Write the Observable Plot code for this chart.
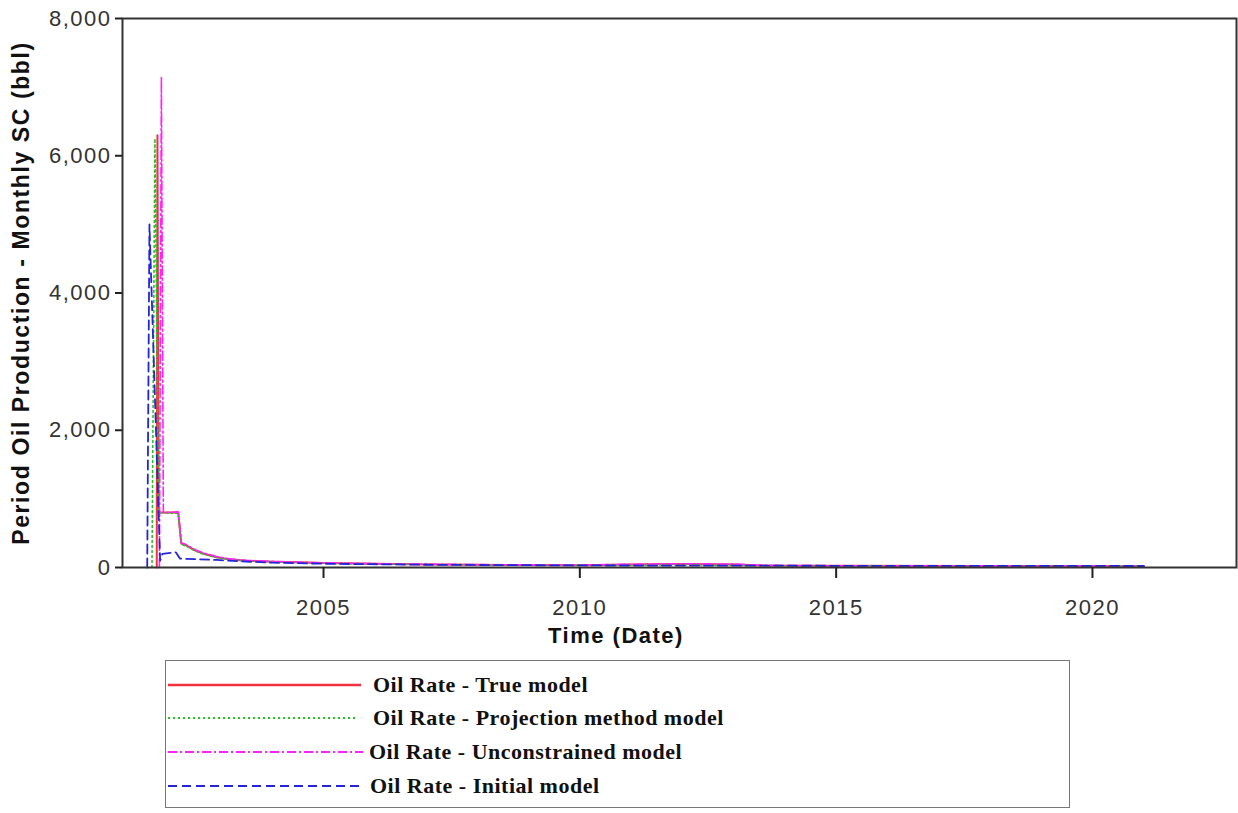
<!DOCTYPE html>
<html>
<head>
<meta charset="utf-8">
<script src="https://cdn.jsdelivr.net/npm/d3@7"></script>
<script src="https://cdn.jsdelivr.net/npm/@observablehq/plot@0.6"></script>
<style>
  body { margin: 0; background: #fff; }
  #wrap { position: relative; width: 1238px; height: 813px; font-family: "Liberation Sans", Arial, sans-serif; }
  #chart { position: absolute; left: 0; top: 0; }
  #chart svg g[aria-label="y-axis label"] text { font-weight: bold; font-size: 23px; letter-spacing: 1.6px; fill: #111; }
  #chart svg g[aria-label="y-axis tick label"] text,
  #chart svg g[aria-label="x-axis tick label"] text { letter-spacing: 1.5px; fill: #333; }
  #xlabel { position: absolute; left: 548px; top: 623px; font-weight: bold; font-size: 22px; letter-spacing: 1.5px; color: #111; white-space: nowrap; }
  #legend { position: absolute; left: 165px; top: 660px; width: 905px; height: 148px; border: 1.5px solid #777; box-sizing: border-box; }
  .lrow { position: absolute; left: 0; height: 30px; width: 900px; }
  .lrow svg { position: absolute; left: 0; top: 0; }
  .lrow span { position: absolute; top: 2px; font-family: "Liberation Serif", "Times New Roman", serif; font-weight: bold; font-size: 22px; letter-spacing: 0.5px; color: #111; white-space: nowrap; }
</style>
</head>
<body>
<div id="wrap">
  <div id="chart"></div>
  <div id="xlabel">Time (Date)</div>
  <div id="legend"></div>
</div>
<script>
// ---- data ----
const seriesNames = ["Oil Rate - True model", "Oil Rate - Projection method model", "Oil Rate - Unconstrained model", "Oil Rate - Initial model"];
const seriesColors = ["#f2303e", "#22c422", "#ff22ff", "#2424d8"];
const seriesDash = [null, "2,3", "9,3,2,3", "9,5"];
const seriesWidth = [2, 1.6, 1.6, 1.8];

const yTicks = [0, 2000, 4000, 6000, 8000];
const xTickYears = [2005, 2010, 2015, 2020];

const trueModel = [
  ["2001-10-01", 0], ["2001-10-06", 6300], ["2001-10-14", 800], ["2002-03-03", 800],
  ["2002-03-25", 350], ["2002-05-01", 320], ["2002-07-01", 250], ["2002-09-01", 200],
  ["2002-12-01", 150], ["2003-03-01", 120], ["2003-07-01", 100], ["2004-01-01", 85],
  ["2004-07-01", 75], ["2005-01-01", 65], ["2006-01-01", 55], ["2007-01-01", 45],
  ["2008-01-01", 40], ["2009-01-01", 35], ["2010-01-01", 32], ["2011-01-01", 45],
  ["2012-01-01", 50], ["2013-01-01", 45], ["2013-08-01", 30], ["2015-01-01", 25],
  ["2018-01-01", 22], ["2021-01-01", 20]
];
const projectionModel = [
  ["2001-08-28", 0], ["2001-09-18", 6250], ["2001-10-14", 800], ["2002-03-03", 790],
  ["2002-03-25", 340], ["2002-05-01", 310], ["2002-07-01", 240], ["2002-09-01", 195],
  ["2002-12-01", 145], ["2003-03-01", 115], ["2003-07-01", 98], ["2004-01-01", 82],
  ["2005-01-01", 62], ["2006-01-01", 52], ["2008-01-01", 40], ["2010-01-01", 32],
  ["2012-01-01", 40], ["2013-08-01", 28], ["2015-01-01", 24], ["2021-01-01", 20]
];
const unconstrainedModel = [
  ["2001-10-20", 0], ["2001-11-03", 7150], ["2001-11-17", 800], ["2002-03-03", 810],
  ["2002-03-25", 360], ["2002-05-01", 330], ["2002-07-01", 260], ["2002-09-01", 210],
  ["2002-12-01", 160], ["2003-03-01", 125], ["2003-07-01", 105], ["2004-01-01", 90],
  ["2005-01-01", 68], ["2006-01-01", 56], ["2008-01-01", 42], ["2010-01-01", 34],
  ["2011-01-01", 48], ["2012-01-01", 55], ["2013-01-01", 50], ["2013-08-01", 32],
  ["2015-01-01", 25], ["2021-01-01", 21]
];
const initialModel = [
  ["2001-07-25", 0], ["2001-08-10", 5000], ["2001-10-25", 100], ["2001-11-10", 200],
  ["2002-02-15", 220], ["2002-03-15", 130], ["2002-12-01", 110], ["2003-06-01", 90],
  ["2004-01-01", 70], ["2005-01-01", 55], ["2007-01-01", 40], ["2010-01-01", 30],
  ["2015-01-01", 25], ["2021-01-01", 22]
];

const allSeries = [trueModel, projectionModel, unconstrainedModel, initialModel];
const rows = allSeries.map(s => s.map(([d, v]) => ({date: new Date(d + "T00:00:00Z"), value: v})));

const chart = Plot.plot({
  width: 1238,
  height: 650,
  marginTop: 18,
  marginLeft: 122,
  marginRight: 2,
  marginBottom: 83,
  style: {fontFamily: "'Liberation Sans', Arial, sans-serif", fontSize: "22px", color: "#222", background: "#fff"},
  x: {type: "utc", domain: [new Date("2001-01-30T00:00:00Z"), new Date("2022-10-23T00:00:00Z")]},
  y: {domain: [0, 8000]},
  marks: [
    ...rows.map((r, i) => Plot.line(r, {
      x: "date", y: "value",
      stroke: seriesColors[i], strokeWidth: seriesWidth[i],
      strokeDasharray: seriesDash[i]
    })),
    Plot.frame({stroke: "#333", strokeWidth: 2}),
    Plot.axisY({ticks: yTicks, tickFormat: d3.format(","), tickSize: 7, tickPadding: 4,
      strokeWidth: 2, label: "Period Oil Production - Monthly SC (bbl)", labelArrow: "none",
      labelAnchor: "center", labelOffset: 110}),
    Plot.axisX({ticks: xTickYears.map(y => new Date(Date.UTC(y, 0, 1))), tickFormat: d3.utcFormat("%Y"),
      tickSize: 11, tickPadding: 21, strokeWidth: 2, label: null})
  ]
});
document.getElementById("chart").appendChild(chart);

// legend
const legend = document.getElementById("legend");
const rowTops = [9, 42, 76, 110];
const textLefts = [207, 207, 203, 204];
const sampleEnds = [195, 192, 197, 195];
seriesNames.forEach((name, i) => {
  const row = document.createElement("div");
  row.className = "lrow";
  row.style.top = rowTops[i] + "px";
  const svg = d3.create("svg").attr("width", 200).attr("height", 30);
  svg.append("line").attr("x1", 2).attr("x2", sampleEnds[i]).attr("y1", 15).attr("y2", 15)
    .attr("stroke", seriesColors[i]).attr("stroke-width", i === 0 ? 2.5 : 1.8)
    .attr("stroke-dasharray", seriesDash[i]);
  row.appendChild(svg.node());
  const t = document.createElement("span");
  t.textContent = name;
  t.style.left = textLefts[i] + "px";
  row.appendChild(t);
  legend.appendChild(row);
});
</script>
</body>
</html>
